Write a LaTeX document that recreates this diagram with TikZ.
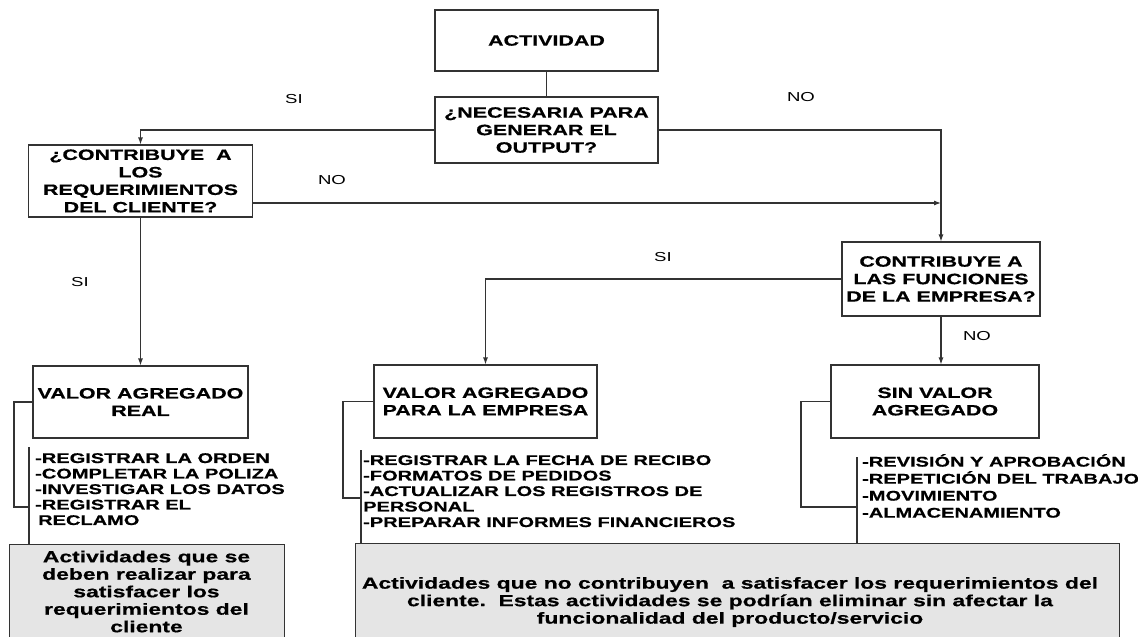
\documentclass[tikz,border=0pt]{standalone}
\usepackage{fontspec}
\setmainfont{Liberation Sans}[FakeStretch=1.43, BoldFeatures={FakeBold=0.6}]
\usetikzlibrary{arrows.meta}
\begin{document}
\begin{tikzpicture}[x=1pt,y=-1pt,
  ln/.style={draw=black!80, line width=1.1pt},
  arr/.style={ln, -{Latex[length=7pt,width=5pt]}},
  box/.style={draw=black!80, line width=1.1pt, fill=white, align=center, inner sep=0pt, font=\bfseries\fontsize{15}{17.5}\selectfont},
  lbl/.style={font=\fontsize{13}{15}\selectfont, inner sep=0pt},
  lst/.style={align=left, anchor=north west, inner sep=0pt, font=\bfseries\fontsize{14}{15.5}\selectfont},
  gbox/.style={draw=black!80, line width=1.1pt, fill=black!10, inner sep=0pt, anchor=north west},
  gtxt/.style={align=center, inner sep=0pt, font=\bfseries\fontsize{16}{17.5}\selectfont}
]
\useasboundingbox (0,0) rectangle (1138,637);

% boxes
\node[box, minimum width=223pt, minimum height=61pt] (act) at (546.5,40.5) {ACTIVIDAD};
\node[box, minimum width=223pt, minimum height=66pt] (nec) at (546.5,130) {¿NECESARIA PARA\\GENERAR EL\\OUTPUT?};
\node[box, minimum width=224pt, minimum height=72pt] (q1) at (140.5,181) {¿CONTRIBUYE\ \ A\\LOS\\REQUERIMIENTOS\\DEL CLIENTE?};
\node[box, minimum width=198pt, minimum height=74pt] (q2) at (941,279) {CONTRIBUYE A\\LAS FUNCIONES\\DE LA EMPRESA?};
\node[box, minimum width=215pt, minimum height=72pt] (v1) at (140.5,402) {VALOR AGREGADO\\REAL};
\node[box, minimum width=223pt, minimum height=73pt] (v2) at (485.5,401.5) {VALOR AGREGADO\\PARA LA EMPRESA};
\node[box, minimum width=208pt, minimum height=73pt] (v3) at (935,401.5) {SIN VALOR\\AGREGADO};

% grey boxes
\node[gbox, minimum width=275pt, minimum height=110pt] (g1) at (9,544) {};
\node[gtxt] (g1t) at (146.5,591.5) {Actividades que se\\deben realizar para\\satisfacer los\\requerimientos del\\cliente};
\node[gbox, minimum width=764pt, minimum height=110pt] (g2) at (355,543) {};
\node[gtxt] (g2t) at (730,602) {Actividades que no contribuyen\ \ a satisfacer los requerimientos del\\cliente.\ \ Estas actividades se podrían eliminar sin afectar la\\funcionalidad del producto/servicio};

% connectors
\draw[ln] (act) -- (nec);
\draw[arr] (nec.west) -| (q1.north);
\draw[arr] (nec.east) -| (q2.north);
\coordinate (j1) at (941,203);
\draw[arr] (q1.east |- j1) -- (j1);
\draw[arr] (q1.south) -- (v1.north);
\draw[arr] (q2.west) -| (v2.north);
\draw[arr] (q2.south) -- (q2.south |- v3.north);

% lists
\node[lst] (l1) at (35,453) {-REGISTRAR LA ORDEN\\-COMPLETAR LA POLIZA\\-INVESTIGAR LOS DATOS\\-REGISTRAR EL\\\hspace*{3pt}RECLAMO};
\node[lst] (l2) at (363,455) {-REGISTRAR LA FECHA DE RECIBO\\-FORMATOS DE PEDIDOS\\-ACTUALIZAR LOS REGISTROS DE\\PERSONAL\\-PREPARAR INFORMES FINANCIEROS};
\node[lst, font=\bfseries\fontsize{14}{17}\selectfont] (l3) at (862,454) {-REVISIÓN Y APROBACIÓN\\-REPETICIÓN DEL TRABAJO\\-MOVIMIENTO\\-ALMACENAMIENTO};

% brackets and bars
\coordinate (b1) at (14,507);  \coordinate (t1) at (29,447);
\coordinate (b2) at (343,498); \coordinate (t2) at (361,450);
\coordinate (b3) at (801,507); \coordinate (t3) at (857,457);
\draw[ln] (v1.west) -| (b1) -- (b1 -| t1);
\draw[ln] (v2.west) -| (b2) -- (b2 -| t2);
\draw[ln] (v3.west) -| (b3) -- (b3 -| t3);
\draw[ln] (t1) -- (t1 |- g1.north);
\draw[ln] (t2) -- (t2 |- g2.north);
\draw[ln] (t3) -- (t3 |- g2.north);

% labels
\node[lbl] (si1) at (294,99) {SI};
\node[lbl] (no1) at (801,97) {NO};
\node[lbl] (no2) at (332,180) {NO};
\node[lbl] (si2) at (80,282) {SI};
\node[lbl] (si3) at (663,257) {SI};
\node[lbl] (no3) at (977,336) {NO};
\end{tikzpicture}
\end{document}
